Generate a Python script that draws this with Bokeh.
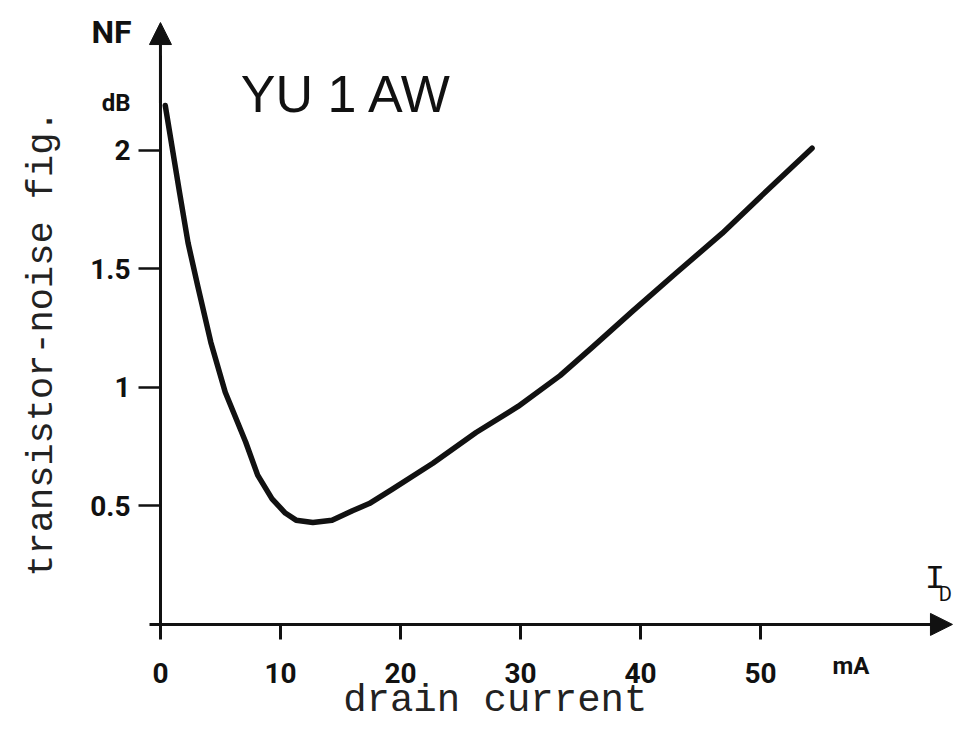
from bokeh.plotting import figure
from bokeh.models import Range1d, FixedTicker, Label, Arrow, NormalHead
from bokeh.embed import file_html
from bokeh.resources import INLINE

# Values (YU 1 AW noise figure vs drain current)
drain_current_mA = [0.4, 1.6, 2.3, 3.1, 4.2, 5.4, 7.1, 8.1, 9.3, 10.4, 11.3, 12.7,
                    14.3, 16.0, 17.4, 19.3, 22.7, 26.3, 29.8, 33.3, 36.0, 39.3,
                    42.9, 46.8, 49.9, 54.3]
noise_figure_dB = [2.19, 1.82, 1.61, 1.43, 1.19, 0.98, 0.77, 0.63, 0.53, 0.47, 0.44, 0.43,
                   0.44, 0.48, 0.51, 0.57, 0.68, 0.81, 0.92, 1.05, 1.17, 1.32,
                   1.48, 1.65, 1.80, 2.01]

x_ticks = [0, 10, 20, 30, 40, 50]
y_ticks = [0.5, 1, 1.5, 2]
y_tick_labels = {0.5: "0.5", 1: "1", 1.5: "1.5", 2: "2"}

# visible extent of the drawing (data units)
x_lo, x_hi = -13.33, 66.17
y_lo, y_hi = -0.435, 2.633
x_arrow_tip = 66.0
y_arrow_tip = 2.54

TICK_FONT = "Roboto"
MONO = "Liberation Mono"
INK = "#111111"

p = figure(width=954, height=727, output_backend="svg", toolbar_location=None,
           x_range=Range1d(x_lo, x_hi), y_range=Range1d(y_lo, y_hi),
           min_border_left=0, min_border_right=0, min_border_top=0,
           min_border_bottom=0, background_fill_color="white",
           border_fill_color="white")
p.outline_line_color = None
p.xgrid.visible = False
p.ygrid.visible = False

# x axis, drawn through the origin
xa = p.xaxis[0]
xa.fixed_location = 0
xa.bounds = (-0.9, 64.5)
xa.ticker = FixedTicker(ticks=x_ticks)
xa.axis_line_width = 3
xa.axis_line_color = INK
xa.major_tick_in = 0
xa.major_tick_out = 15
xa.major_tick_line_width = 3
xa.major_tick_line_color = INK
xa.minor_tick_line_color = None
xa.major_label_text_font = TICK_FONT
xa.major_label_text_font_style = "bold"
xa.major_label_text_font_size = "28px"
xa.major_label_text_color = INK
xa.major_label_standoff = 24

# y axis, drawn through the origin
ya = p.yaxis[0]
ya.fixed_location = 0
ya.bounds = (-0.03, 2.4)
ya.ticker = FixedTicker(ticks=y_ticks)
ya.major_label_overrides = y_tick_labels
ya.axis_line_width = 3
ya.axis_line_color = INK
ya.major_tick_in = 0
ya.major_tick_out = 22
ya.major_tick_line_width = 2.5
ya.major_tick_line_color = INK
ya.minor_tick_line_color = None
ya.major_label_text_font = TICK_FONT
ya.major_label_text_font_style = "bold"
ya.major_label_text_font_size = "28px"
ya.major_label_text_color = INK
ya.major_label_standoff = 8
ya.axis_label = "transistor-noise fig."
ya.axis_label_text_font = MONO
ya.axis_label_text_font_style = "normal"
ya.axis_label_text_font_size = "37px"
ya.axis_label_text_color = "#222222"
ya.axis_label_standoff = 24

# curve
p.line(drain_current_mA, noise_figure_dB, line_width=5.5, line_color=INK,
       line_cap="round", line_join="round")

# axis arrows
p.add_layout(Arrow(end=NormalHead(size=22, fill_color=INK, line_color=INK),
                   x_start=0, y_start=2.2, x_end=0, y_end=y_arrow_tip,
                   line_width=3, line_color=INK))
p.add_layout(Arrow(end=NormalHead(size=22, fill_color=INK, line_color=INK),
                   x_start=60, y_start=0, x_end=x_arrow_tip, y_end=0,
                   line_width=3, line_color=INK))

def lab(text, x, y, size, font=TICK_FONT, style="bold", align="left", baseline="middle",
        color=INK):
    p.add_layout(Label(x=x, y=y, text=text, text_font=font, text_font_style=style,
                       text_font_size=size, text_align=align, text_baseline=baseline,
                       text_color=color))

lab("NF", -2.4, 2.50, "32px", align="right")
lab("dB", -2.5, 2.20, "24px", align="right")
lab("YU 1 AW", 6.7, 2.24, "52px", font="Liberation Sans", style="normal")
lab("mA", 56.0, -0.175, "24px")
lab("I", 63.7, 0.19, "34px", font=MONO, style="normal")
lab("D", 64.85, 0.13, "20px", style="normal")
lab("drain current", 27.9, -0.325, "39px", font=MONO, style="normal", align="center",
    color="#222222")

open("out.html", "w").write(file_html(p, INLINE))
